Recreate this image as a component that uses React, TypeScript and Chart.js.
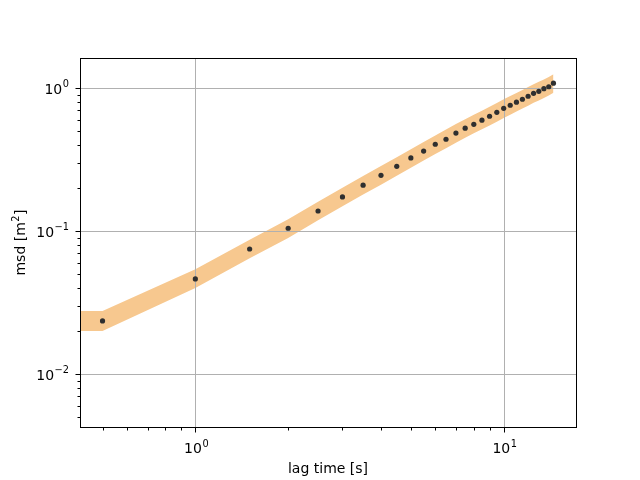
import React, { useEffect, useRef } from "react";
import { Chart, registerables } from "chart.js";

Chart.register(...registerables);

// ---- data ----
const lagTime = [0.5, 1, 1.5, 2, 2.5, 3, 3.5, 4, 4.5, 5, 5.5, 6, 6.5, 7, 7.5, 8, 8.5, 9, 9.5, 10, 10.5, 11, 11.5, 12, 12.5, 13, 13.5, 14, 14.5];
const msd = [0.0235, 0.0462, 0.0748, 0.1045, 0.138, 0.173, 0.209, 0.245, 0.283, 0.324, 0.362, 0.404, 0.438, 0.484, 0.523, 0.557, 0.595, 0.634, 0.676, 0.721, 0.757, 0.796, 0.834, 0.875, 0.918, 0.948, 0.989, 1.02, 1.08];

const bandLag = [0.4226, 0.5, 1, 1.5, 2, 2.5, 3, 3.5, 4, 4.5, 5, 5.5, 6, 6.5, 7, 7.5, 8, 8.5, 9, 9.5, 10, 10.5, 11, 11.5, 12, 12.5, 13, 13.5, 14, 14.5];
const bandLow = [0.02, 0.02, 0.04, 0.0645, 0.0894, 0.1187, 0.1488, 0.1797, 0.2107, 0.2434, 0.2769, 0.3105, 0.3449, 0.3793, 0.4145, 0.4489, 0.4816, 0.5134, 0.547, 0.5814, 0.6175, 0.651, 0.6846, 0.7181, 0.7525, 0.7869, 0.8187, 0.8505, 0.8858, 0.9245];
const bandHigh = [0.0276, 0.0276, 0.054, 0.087, 0.1206, 0.1601, 0.2007, 0.2424, 0.2842, 0.3283, 0.3735, 0.4188, 0.4652, 0.5116, 0.5591, 0.6055, 0.6496, 0.6925, 0.7378, 0.7842, 0.8329, 0.8781, 0.9234, 0.9686, 1.015, 1.0614, 1.1043, 1.1472, 1.1948, 1.247];

const xRange = [0.4226, 17.16];
const yRange = [0.00426, 1.62];

const xMajorTicks = [1, 10];
const xMinorTicks = [0.5, 0.6, 0.7, 0.8, 0.9, 2, 3, 4, 5, 6, 7, 8, 9];
const yMajorTicks = [0.01, 0.1, 1];
const yMinorTicks = [0.005, 0.006, 0.007, 0.008, 0.009, 0.02, 0.03, 0.04, 0.05, 0.06, 0.07, 0.08, 0.09, 0.2, 0.3, 0.4, 0.5, 0.6, 0.7, 0.8, 0.9];

// tick label = base + superscript exponent
const tickExponents: Record<string, string> = {
  "0.01": "\u22122",
  "0.1": "\u22121",
  "1": "0",
  "10": "1",
};
const tickBase = "10";

const xTitle = "lag time [s]";
const yTitleMain = "msd [m";
const yTitleSup = "2";
const yTitleEnd = "]";

const BAND_COLOR = "#f7c88f";
const POINT_COLOR = "#2f2f2f";
const GRID_COLOR = "#b0b0b0";
const FONT = "'DejaVu Sans', sans-serif";
const FS = 14;
const SFS = 9.8;

function drawPow(ctx: any, base: string, exp: string, x: number, y: number, align: "center" | "right") {
  ctx.font = `${FS}px ${FONT}`;
  const wb = ctx.measureText(base).width;
  ctx.font = `${SFS}px ${FONT}`;
  const we = ctx.measureText(exp).width;
  const gap = 0.5;
  const total = wb + gap + we;
  const x0 = align === "center" ? x - total / 2 : x - total;
  ctx.textAlign = "left";
  ctx.textBaseline = "alphabetic";
  ctx.fillStyle = "#000";
  ctx.font = `${FS}px ${FONT}`;
  ctx.fillText(base, x0, y);
  ctx.font = `${SFS}px ${FONT}`;
  ctx.fillText(exp, x0 + wb + gap, y - 6.5);
}

const framePlugin = {
  id: "frame",
  afterDatasetDraw(chart: any, args: any) {
    if (args.index !== 1) return;
    const { ctx, chartArea } = chart;
    const xs = chart.scales.x;
    const ys = chart.scales.y;
    ctx.save();
    ctx.strokeStyle = GRID_COLOR;
    ctx.lineWidth = 1;
    for (const v of xMajorTicks) {
      const px = Math.round(xs.getPixelForValue(v)) + 0.5;
      ctx.beginPath();
      ctx.moveTo(px, chartArea.top);
      ctx.lineTo(px, chartArea.bottom);
      ctx.stroke();
    }
    for (const v of yMajorTicks) {
      const py = Math.round(ys.getPixelForValue(v)) + 0.5;
      ctx.beginPath();
      ctx.moveTo(chartArea.left, py);
      ctx.lineTo(chartArea.right, py);
      ctx.stroke();
    }
    ctx.restore();
  },
  afterDraw(chart: any) {
    const { ctx, chartArea } = chart;
    const xs = chart.scales.x;
    const ys = chart.scales.y;
    ctx.save();
    ctx.strokeStyle = "#000";
    ctx.lineWidth = 1;
    const l = Math.round(chartArea.left) + 0.5;
    const r = Math.round(chartArea.right) + 0.5;
    const t = Math.round(chartArea.top) + 0.5;
    const b = Math.round(chartArea.bottom) + 0.5;
    ctx.strokeRect(l, t, r - l, b - t);
    const drawX = (v: number, len: number) => {
      const px = Math.round(xs.getPixelForValue(v)) + 0.5;
      ctx.beginPath();
      ctx.moveTo(px, b);
      ctx.lineTo(px, b + len);
      ctx.stroke();
    };
    const drawY = (v: number, len: number) => {
      const py = Math.round(ys.getPixelForValue(v)) + 0.5;
      ctx.beginPath();
      ctx.moveTo(l, py);
      ctx.lineTo(l - len, py);
      ctx.stroke();
    };
    xMajorTicks.forEach((v) => drawX(v, 5));
    xMinorTicks.forEach((v) => drawX(v, 3));
    yMajorTicks.forEach((v) => drawY(v, 5));
    yMinorTicks.forEach((v) => drawY(v, 3));

    // tick labels
    xMajorTicks.forEach((v) => {
      const px = xs.getPixelForValue(v);
      drawPow(ctx, tickBase, tickExponents[String(v)], px + 1, chartArea.bottom + 26, "center");
    });
    yMajorTicks.forEach((v) => {
      const py = ys.getPixelForValue(v);
      drawPow(ctx, tickBase, tickExponents[String(v)], chartArea.left - 11, py + 6, "right");
    });

    // axis titles
    ctx.fillStyle = "#000";
    ctx.font = `${FS}px ${FONT}`;
    ctx.textAlign = "center";
    ctx.textBaseline = "alphabetic";
    ctx.fillText(xTitle, (chartArea.left + chartArea.right) / 2, 472.5);

    ctx.save();
    ctx.translate(25, (chartArea.top + chartArea.bottom) / 2);
    ctx.rotate(-Math.PI / 2);
    ctx.font = `${FS}px ${FONT}`;
    const w1 = ctx.measureText(yTitleMain).width;
    const w3 = ctx.measureText(yTitleEnd).width;
    ctx.font = `${SFS}px ${FONT}`;
    const w2 = ctx.measureText(yTitleSup).width;
    const total = w1 + w2 + w3 + 1;
    let x0 = -total / 2;
    ctx.textAlign = "left";
    ctx.font = `${FS}px ${FONT}`;
    ctx.fillText(yTitleMain, x0, 0);
    ctx.font = `${SFS}px ${FONT}`;
    ctx.fillText(yTitleSup, x0 + w1 + 0.5, -6.5);
    ctx.font = `${FS}px ${FONT}`;
    ctx.fillText(yTitleEnd, x0 + w1 + w2 + 1, 0);
    ctx.restore();

    ctx.restore();
  },
};

export default function App() {
  const ref = useRef<HTMLCanvasElement | null>(null);
  useEffect(() => {
    document.body.style.margin = "0";
    if (!ref.current) return;
    Chart.defaults.font.family = FONT;
    const chart = new Chart(ref.current, {
      type: "line",
      data: {
        datasets: [
          {
            label: "low",
            data: bandLag.map((x, i) => ({ x, y: bandLow[i] })),
            borderWidth: 0,
            pointRadius: 0,
            fill: false,
            order: 2,
            borderColor: "rgba(0,0,0,0)",
          },
          {
            label: "high",
            data: bandLag.map((x, i) => ({ x, y: bandHigh[i] })),
            borderWidth: 0,
            pointRadius: 0,
            fill: "-1",
            backgroundColor: BAND_COLOR,
            borderColor: "rgba(0,0,0,0)",
            order: 1,
          },
          {
            label: "msd",
            data: lagTime.map((x, i) => ({ x, y: msd[i] })),
            showLine: false,
            pointRadius: 2.6,
            pointBorderWidth: 0,
            pointBackgroundColor: POINT_COLOR,
            backgroundColor: POINT_COLOR,
            borderColor: POINT_COLOR,
            order: 0,
          },
        ],
      },
      options: {
        animation: false,
        responsive: false,
        devicePixelRatio: 1,
        layout: { padding: { top: 58, right: 64, left: 0, bottom: 0 } },
        plugins: {
          legend: { display: false },
          tooltip: { enabled: false },
        },
        scales: {
          x: {
            type: "logarithmic",
            min: xRange[0],
            max: xRange[1],
            grid: { display: false },
            border: { display: false },
            ticks: { display: false },
            afterFit: (scale: any) => {
              scale.height = 53;
            },
            title: { display: false, text: xTitle },
          },
          y: {
            type: "logarithmic",
            min: yRange[0],
            max: yRange[1],
            grid: { display: false },
            border: { display: false },
            ticks: { display: false },
            afterFit: (scale: any) => {
              scale.width = 80;
            },
            title: { display: false, text: yTitleMain + yTitleSup + yTitleEnd },
          },
        },
      },
      plugins: [framePlugin],
    } as any);
    return () => chart.destroy();
  }, []);
  return (
    <div style={{ width: 640, height: 480 }}>
      <canvas ref={ref} width={640} height={480} style={{ display: "block" }} />
    </div>
  );
}
